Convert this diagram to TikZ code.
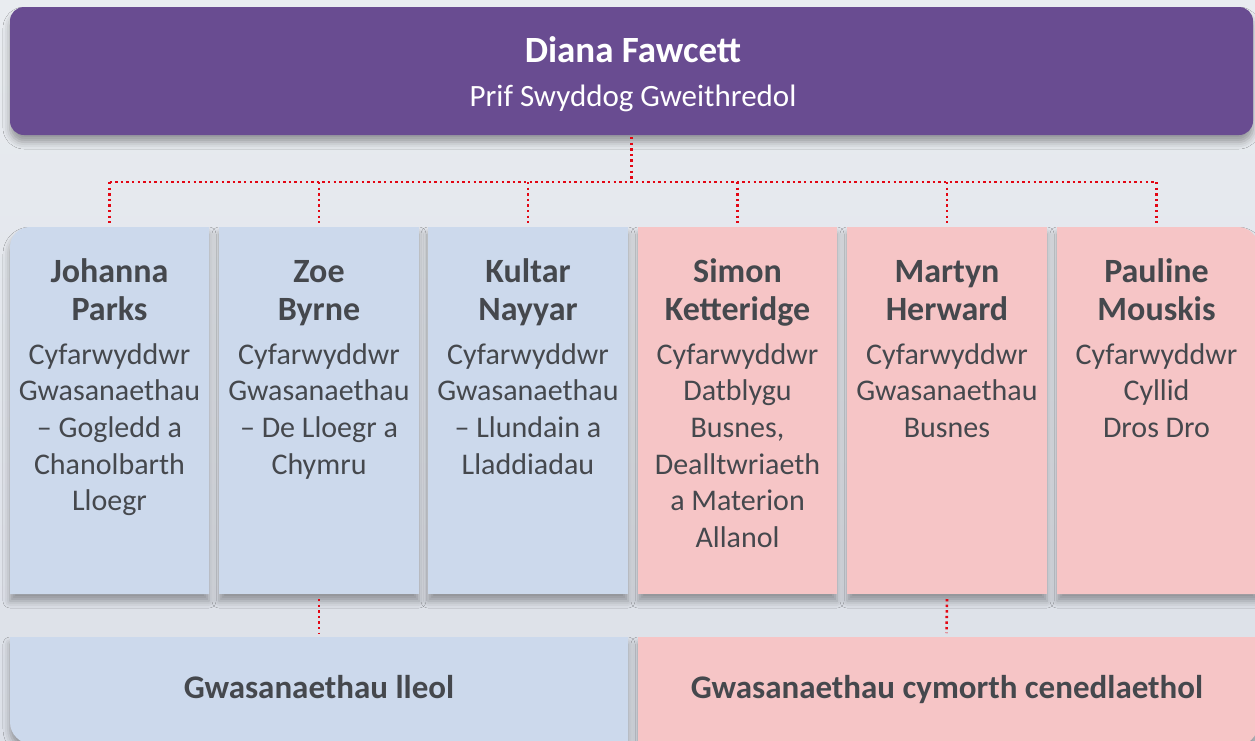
\documentclass[tikz,border=0pt]{standalone}
\usepackage{fontspec}
\setmainfont{Carlito}
\usetikzlibrary{shadows.blur}
\definecolor{bgtop}{HTML}{E9ECF0}
\definecolor{bgbot}{HTML}{DCE0E8}
\definecolor{purp}{HTML}{694C91}
\definecolor{lblue}{HTML}{CCD9EC}
\definecolor{lpink}{HTML}{F6C5C6}
\definecolor{txt}{HTML}{45484D}
\definecolor{dotred}{HTML}{E30613}
\begin{document}
\begin{tikzpicture}[x=1pt,y=-1pt,
  boxshadow/.style={blur shadow={shadow xshift=0pt,shadow yshift=-7pt,shadow blur radius=7pt,shadow opacity=35}},
  slot/.style={rectangle,inner sep=0pt,outer sep=0pt},
  conn/.style={draw=dotred,line width=2.6pt,dash pattern=on 2.4pt off 3.2pt},
  nametxt/.style={font=\fontsize{34}{38}\selectfont\bfseries,text=txt,align=center,inner sep=0pt,anchor=north},
  roletxt/.style={font=\fontsize{30}{36.6}\selectfont,text=txt,align=center,inner sep=0pt,anchor=north},
  bottxt/.style={font=\fontsize{33}{38}\selectfont\bfseries,text=txt,inner sep=0pt,anchor=base}
]
\useasboundingbox (0,0) rectangle (1255,740);
\shade[top color=bgtop,bottom color=bgbot] (0,0) rectangle (1255,740);

% top box
\fill[purp,rounded corners=14pt,boxshadow] (10,7) rectangle (1253,135);
\node[slot,minimum width=1243pt,minimum height=128pt] (top) at (631.5,71) {};
\node[font=\fontsize{37}{40}\selectfont\bfseries,text=white,anchor=base,inner sep=0pt] (topname) at (633,62) {Diana Fawcett};
\node[font=\fontsize{31}{36}\selectfont,text=white,anchor=base,inner sep=0pt] (toprole) at (633,106) {Prif Swyddog Gweithredol};

% middle boxes
\fill[lblue,boxshadow] (10,594) -- (10,247) arc[start angle=180,end angle=90,radius=20pt] -- (209,227) -- (209,594) -- cycle;
\fill[lblue,boxshadow] (219,227) rectangle (419,594);
\fill[lblue,boxshadow] (428,227) rectangle (628,594);
\fill[lpink,boxshadow] (638,227) rectangle (837,594);
\fill[lpink,boxshadow] (847,227) rectangle (1047,594);
\fill[lpink,boxshadow] (1057,594) -- (1057,227) -- (1238,227) arc[start angle=90,end angle=0,radius=20pt] -- (1258,594) -- cycle;

\node[slot,minimum width=199pt,minimum height=367pt] (m1) at (109.5,410.5) {};
\node[slot,minimum width=200pt,minimum height=367pt] (m2) at (319,410.5) {};
\node[slot,minimum width=200pt,minimum height=367pt] (m3) at (528,410.5) {};
\node[slot,minimum width=199pt,minimum height=367pt] (m4) at (737.5,410.5) {};
\node[slot,minimum width=200pt,minimum height=367pt] (m5) at (947,410.5) {};
\node[slot,minimum width=199pt,minimum height=367pt] (m6) at (1156.5,410.5) {};

\node[nametxt] (n1) at (109.5,254) {\rule{0pt}{28pt}Johanna\\Parks};
\node[nametxt] (n2) at (319,254) {\rule{0pt}{28pt}Zoe\\Byrne};
\node[nametxt] (n3) at (528,254) {\rule{0pt}{28pt}Kultar\\Nayyar};
\node[nametxt] (n4) at (737.5,254) {\rule{0pt}{28pt}Simon\\Ketteridge};
\node[nametxt] (n5) at (947,254) {\rule{0pt}{28pt}Martyn\\Herward};
\node[nametxt] (n6) at (1156.5,254) {\rule{0pt}{28pt}Pauline\\Mouskis};

\node[roletxt] (r1) at (109.5,339) {\rule{0pt}{25pt}Cyfarwyddwr\\Gwasanaethau\\– Gogledd a\\Chanolbarth\\Lloegr};
\node[roletxt] (r2) at (319,339) {\rule{0pt}{25pt}Cyfarwyddwr\\Gwasanaethau\\– De Lloegr a\\Chymru};
\node[roletxt] (r3) at (528,339) {\rule{0pt}{25pt}Cyfarwyddwr\\Gwasanaethau\\– Llundain a\\Lladdiadau};
\node[roletxt] (r4) at (737.5,339) {\rule{0pt}{25pt}Cyfarwyddwr\\Datblygu\\Busnes,\\Dealltwriaeth\\a Materion\\Allanol};
\node[roletxt] (r5) at (947,339) {\rule{0pt}{25pt}Cyfarwyddwr\\Gwasanaethau\\Busnes};
\node[roletxt] (r6) at (1156.5,339) {\rule{0pt}{25pt}Cyfarwyddwr\\Cyllid\\Dros Dro};

% bottom boxes
\fill[lblue,boxshadow] (628,637) -- (10,637) -- (10,722) arc[start angle=180,end angle=270,radius=22pt] -- (628,744) -- cycle;
\fill[lpink,boxshadow] (638,637) -- (1258,637) -- (1258,724) arc[start angle=0,end angle=-90,radius=22pt] -- (638,746) -- cycle;
\node[slot,minimum width=618pt,minimum height=107pt] (b1) at (319,690.5) {};
\node[slot,minimum width=618pt,minimum height=107pt] (b2) at (946.5,690.5) {};
\node[bottxt] (b1t) at (319,698) {Gwasanaethau lleol};
\node[bottxt] (b2t) at (947,698) {Gwasanaethau cymorth cenedlaethol};

% connectors
\coordinate (busL) at (109.5,182);
\coordinate (busR) at (1156.5,182);
\draw[conn] ([yshift=-2pt]top.south) -- (top.south |- busL);
\draw[conn] (busL) -- (busR);
\foreach \n in {m1,m2,m3,m4,m5,m6}
  \draw[conn] (\n.north |- busL) -- ([yshift=4pt]\n.north);
\draw[conn] ([yshift=-5pt]m2.south) -- ([yshift=4pt]b1.north);
\draw[conn] ([yshift=-5pt]m5.south) -- ([yshift=4pt]b2.north);
\end{tikzpicture}
\end{document}
